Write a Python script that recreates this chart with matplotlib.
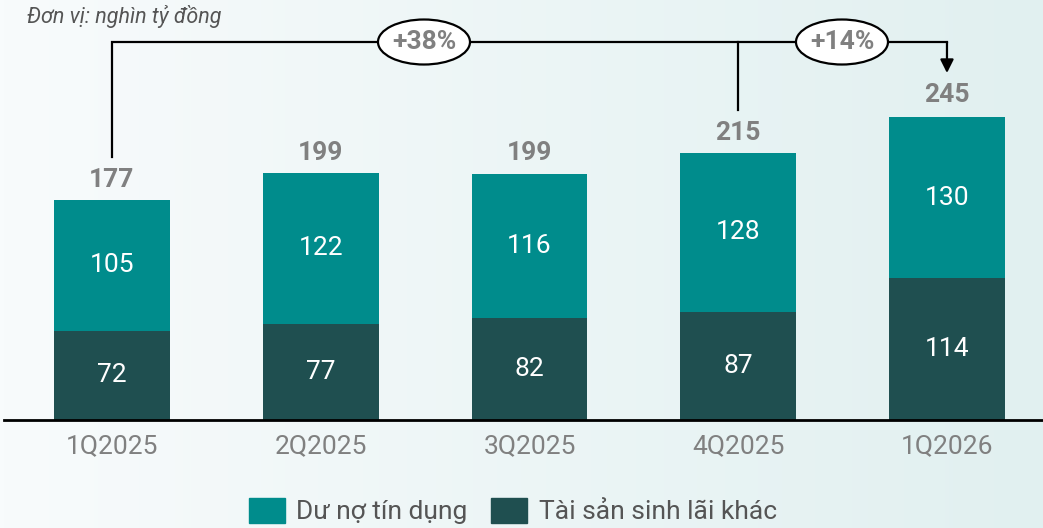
import numpy as np
import matplotlib.pyplot as plt
from matplotlib.patches import Ellipse, Patch
from matplotlib.colors import LinearSegmentedColormap

plt.rcParams['font.family'] = ['Roboto', 'DejaVu Sans']

# dữ liệu
quarters = ['1Q2025', '2Q2025', '3Q2025', '4Q2025', '1Q2026']
credit = [105, 122, 116, 128, 130]        # Dư nợ tín dụng
other = [72, 77, 82, 87, 114]             # Tài sản sinh lãi khác
totals = [177, 199, 199, 215, 245]
growth_labels = ['+38%', '+14%']

teal = '#008c8c'
dark = '#1f4f50'
grey = '#808080'

fig = plt.figure(figsize=(10.43, 5.28), dpi=100)

# nền gradient
bg = fig.add_axes([0, 0, 1, 1], zorder=-10)
cmap = LinearSegmentedColormap.from_list('bg', ['#f8fbfc', '#e1f0f0'])
grad = np.linspace(0, 1, 256).reshape(1, -1)
bg.imshow(grad, aspect='auto', cmap=cmap, extent=[0, 1, 0, 1])
bg.axis('off')

ax = fig.add_axes([4 / 1043, 108 / 528, 1 - 4 / 1043, 420 / 528])
ax.patch.set_alpha(0)
x = np.arange(len(quarters))
w = 0.555
ax.bar(x, other, w, color=dark, label='Tài sản sinh lãi khác')
ax.bar(x, credit, w, bottom=other, color=teal, label='Dư nợ tín dụng')

for i in range(len(x)):
    ax.text(x[i], other[i] / 2, str(other[i]), ha='center', va='center',
            color='white', fontsize=19)
    ax.text(x[i], other[i] + credit[i] / 2, str(credit[i]), ha='center',
            va='center', color='white', fontsize=19)
    ax.annotate(str(totals[i]), (x[i], totals[i]), xytext=(0, 14.5),
                textcoords='offset points', ha='center', va='center',
                color=grey, fontsize=19, fontweight='bold')

x0 = -0.5365 + 4 / 208.75
ax.set_xlim(x0, 4.46)
ax.set_ylim(0, 337.9)
ax.set_xticks(x)
ax.set_xticklabels(quarters, fontsize=19, color=grey)
ax.tick_params(axis='x', length=0, pad=10)
ax.set_yticks([])
for s in ['top', 'right', 'left']:
    ax.spines[s].set_visible(False)
ax.spines['bottom'].set_linewidth(2)
ax.spines['bottom'].set_color('black')

# đường tăng trưởng
px = 1.243
ytop = (420 - 42) / px
ax.plot([x[0], x[0], x[4], x[4]], [(420 - 157) / px, ytop, ytop, ytop],
        color='black', lw=1.6, clip_on=False, solid_joinstyle='miter')
ax.plot([x[3], x[3]], [ytop, (420 - 110) / px], color='black', lw=1.6,
        clip_on=False)
ax.annotate('', xy=(x[4], (420 - 73) / px), xytext=(x[4], ytop),
            arrowprops=dict(arrowstyle='-|>', color='black', lw=1.6,
                            mutation_scale=20, shrinkA=0, shrinkB=0),
            annotation_clip=False)

for cx, lab in zip([(424 - 112) / 208.75, (842 - 112) / 208.75], growth_labels):
    e = Ellipse((cx, ytop), 92 / 208.75, 45 / px, facecolor='white',
                edgecolor='black', lw=1.6, clip_on=False, zorder=5)
    ax.add_patch(e)
    ax.text(cx, ytop, lab, ha='center', va='center', color=grey,
            fontsize=19, fontweight='bold', zorder=6)

fig.text(27 / 1043, 1 - 17 / 528, 'Đơn vị: nghìn tỷ đồng', ha='left',
         va='center', fontsize=15.5, style='italic', color='#555555')

handles = [Patch(color=teal, label='Dư nợ tín dụng'),
           Patch(color=dark, label='Tài sản sinh lãi khác')]
leg = fig.legend(handles=handles, loc='center', bbox_to_anchor=(513 / 1043, 1 - 511 / 528),
                 ncol=2, frameon=False, fontsize=19, handlelength=1.35,
                 handleheight=1.1, handletextpad=0.45, columnspacing=0.9)
for t in leg.get_texts():
    t.set_color('#555555')

fig.savefig('out.png', dpi=100)
